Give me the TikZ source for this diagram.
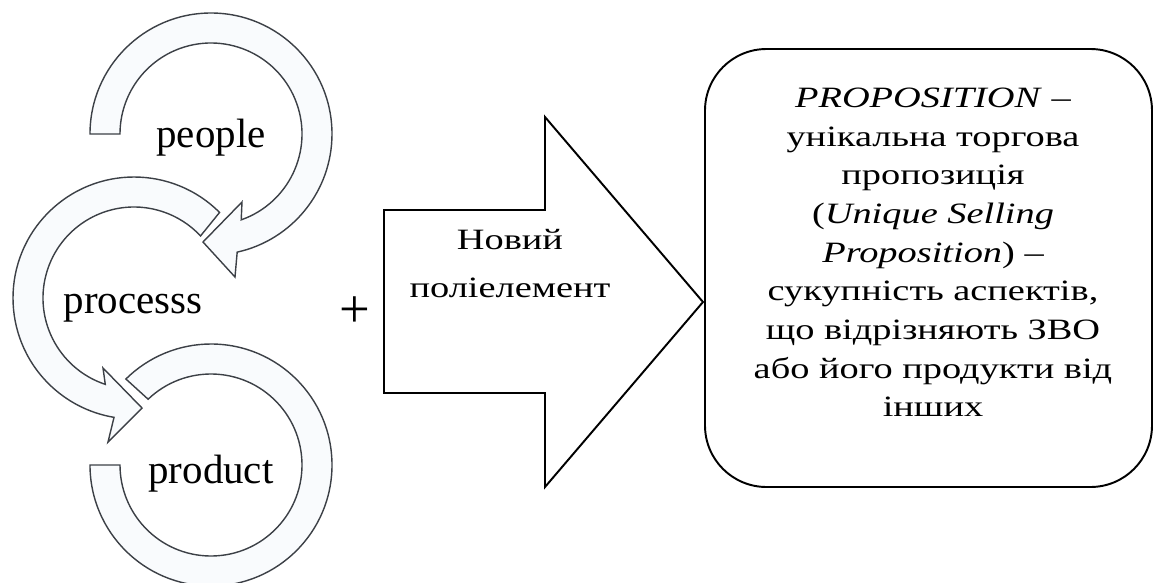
\documentclass[tikz,border=0pt]{standalone}
\usepackage{fontspec}
\setmainfont{Liberation Serif}
\newfontfamily\widefont{Liberation Serif}[FakeStretch=1.3]
\usepackage{tikz}
\definecolor{ringline}{RGB}{60, 64, 70}
\definecolor{ringfill}{RGB}{249, 251, 253}
\tikzset{
 ring/.style={
 draw=ringline,
 fill=ringfill,
 line width=0.8pt,
 line join=miter
 },
 ringlabel/.style={
 font=\fontsize{23.3}{28}\selectfont,
 inner sep=0pt,
 anchor=base
 },
 blockarrow/.style={
 draw=black,
 fill=white,
 line width=1.1pt
 },
 uspbox/.style={
 draw=black,
 fill=white,
 line width=1.1pt,
 rounded corners=35pt
 },
 boxtext/.style={
 font=\widefont\fontsize{16.8}{22}\selectfont,
 align=center,
 inner sep=0pt
 }
}

\begin{document}
\begin{tikzpicture}[x=0.2mm, y=-0.2mm]
 \useasboundingbox (0,0) rectangle (1154,582);

 % three ring arrows
 \draw[ring] ([shift={(211,134)}]180:121) arc[start angle=180, end angle=437.5, radius=121]
 -- (235,277) -- (203,242) -- (242,202) -- ([shift={(211,134)}]70.6:91)
 arc[start angle=70.6, end angle=-180, radius=91] -- cycle;
 \draw[ring] ([shift={(134,298)}]-45:121) arc[start angle=-45, end angle=-260.5, radius=121]
 -- (108,442) -- (142,408) -- (103,368) -- ([shift={(134,298)}]-251.6:91)
 arc[start angle=-251.6, end angle=-43, radius=91] -- cycle;
 \draw[ring] ([shift={(211,465)}]180:121) arc[start angle=180, end angle=-134.7, radius=121]
 -- ([shift={(211,465)}]-133.7:91)
 arc[start angle=-133.7, end angle=180, radius=91] -- cycle;

 \node[ringlabel] (people) at (211,147) {people};
 \node[ringlabel] (processs) at (133,313) {processs};
 \node[ringlabel] (product) at (211,483) {product};

 \node[font=\fontsize{31}{34}\selectfont, inner sep=0pt] (plus) at (355,312) {+};

 % block arrow
 \draw[blockarrow] (384,210) -- (545,210) -- (545,117) -- (703,302)
 -- (545,487) -- (545,393) -- (384,393) -- cycle;
 \node[boxtext, font=\widefont\fontsize{16.8}{27.3}\selectfont] (newel) at (510,264)
 {Новий\\поліелемент};

 % rounded box
 \draw[uspbox] (705,49) rectangle (1152,487);
 \node[boxtext] (usp) at (933,252.5)
 {\textit{PROPOSITION} –\\унікальна торгова\\пропозиція\\(\textit{Unique Selling}\\\textit{Proposition}) –\\сукупність аспектів,\\що відрізняють ЗВО\\або його продукти від\\інших};
\end{tikzpicture}
\end{document}
